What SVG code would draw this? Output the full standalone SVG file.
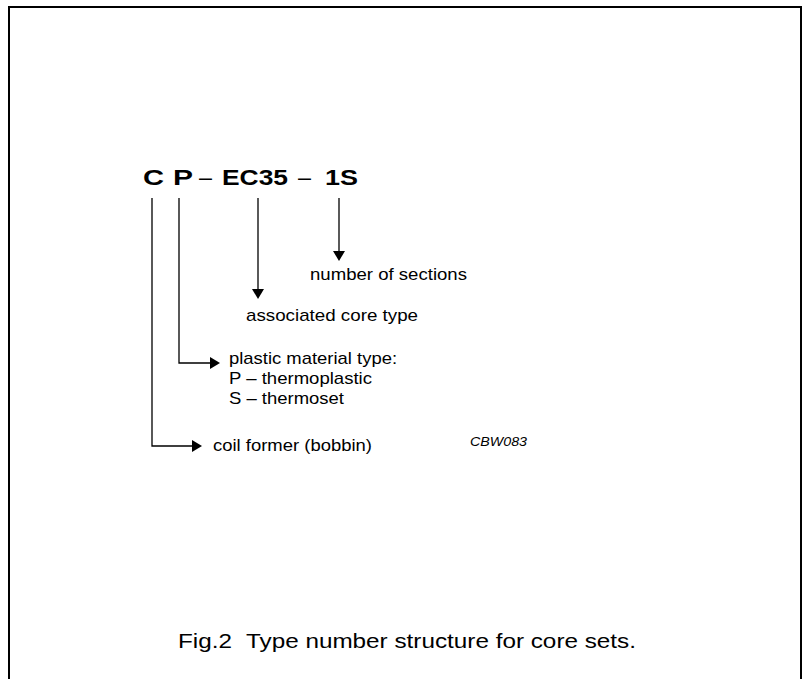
<svg xmlns="http://www.w3.org/2000/svg" width="802" height="679" viewBox="0 0 802 679">
<style>
.t{font-family:"Liberation Sans",Arial,sans-serif;fill:#000}
.b{font-weight:bold;font-size:22px}
.d{font-size:22px}
.l{font-size:17px}
.c{font-size:21px}
.i{font-size:13px;font-style:italic}
.ln{fill:none;stroke:#000;stroke-width:1.3}
</style>
<defs>
<marker id="ah" markerUnits="userSpaceOnUse" markerWidth="10" markerHeight="12" refX="6" refY="6" orient="auto" viewBox="0 0 10 12">
<path d="M0,0 L10,6 L0,12 z" fill="#000"/>
</marker>
</defs>
<rect width="802" height="679" fill="#fff"/>
<path d="M9,680 V7 H801 V680" fill="none" stroke="#000" stroke-width="2"/>
<g id="code">
<text class="t b" x="143" y="185" textLength="21" lengthAdjust="spacingAndGlyphs">C</text>
<text class="t b" x="173" y="185" textLength="20" lengthAdjust="spacingAndGlyphs">P</text>
<text class="t d" x="199" y="185" textLength="13" lengthAdjust="spacingAndGlyphs">–</text>
<text class="t b" x="222" y="185" textLength="66" lengthAdjust="spacingAndGlyphs">EC35</text>
<text class="t d" x="298" y="185" textLength="13" lengthAdjust="spacingAndGlyphs">–</text>
<text class="t b" x="325" y="185" textLength="33" lengthAdjust="spacingAndGlyphs">1S</text>
</g>
<g id="connectors">
<path class="ln" d="M339,198 V257" marker-end="url(#ah)"/>
<path class="ln" d="M258,198 V295" marker-end="url(#ah)"/>
<path class="ln" d="M179,198 V363 H216" marker-end="url(#ah)"/>
<path class="ln" d="M152,198 V446 H198" marker-end="url(#ah)"/>
</g>
<g id="sections">
<text class="t l" x="310" y="280" textLength="157" lengthAdjust="spacingAndGlyphs">number of sections</text>
</g>
<g id="core-type">
<text class="t l" x="246" y="321" textLength="172" lengthAdjust="spacingAndGlyphs">associated core type</text>
</g>
<g id="material">
<text class="t l" x="229" y="364" textLength="168" lengthAdjust="spacingAndGlyphs">plastic material type:</text>
<text class="t l" x="229" y="384" textLength="143" lengthAdjust="spacingAndGlyphs">P – thermoplastic</text>
<text class="t l" x="229" y="404" textLength="115" lengthAdjust="spacingAndGlyphs">S – thermoset</text>
</g>
<g id="former">
<text class="t l" x="213" y="451" textLength="159" lengthAdjust="spacingAndGlyphs">coil former (bobbin)</text>
</g>
<text class="t i" x="470" y="446" textLength="57" lengthAdjust="spacingAndGlyphs">CBW083</text>
<text class="t c" y="648"><tspan x="178" textLength="54" lengthAdjust="spacingAndGlyphs">Fig.2</tspan><tspan x="246" textLength="390" lengthAdjust="spacingAndGlyphs">Type number structure for core sets.</tspan></text>
</svg>
